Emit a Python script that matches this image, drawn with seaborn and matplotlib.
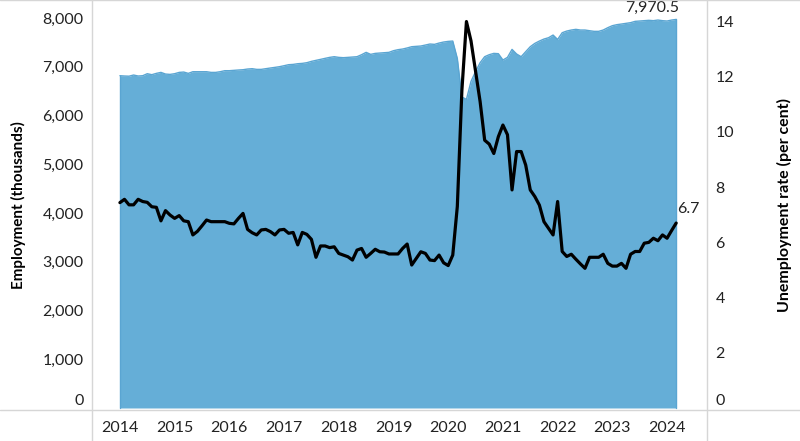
import numpy as np
import pandas as pd
import seaborn as sns
import matplotlib.pyplot as plt
from matplotlib.lines import Line2D

# monthly values, Jan 2014 - Mar 2024
employment = [
    6816, 6810, 6806, 6830, 6810, 6816, 6857, 6837, 6864, 6884, 6850, 6843,
    6857, 6884, 6891, 6864, 6898, 6898, 6898, 6898, 6884, 6884, 6898, 6919,
    6919, 6926, 6933, 6939, 6953, 6960, 6946, 6946, 6960, 6974, 6987, 7001,
    7021, 7042, 7048, 7062, 7069, 7083, 7110, 7131, 7151, 7172, 7192, 7206,
    7192, 7186, 7192, 7199, 7206, 7247, 7295, 7254, 7274, 7281, 7288, 7295,
    7329, 7350, 7363, 7385, 7411, 7418, 7425, 7445, 7466, 7459, 7486, 7507,
    7520, 7527, 7170, 6380, 6330, 6700, 6900, 7083, 7206, 7247, 7274, 7268,
    7138, 7192, 7356, 7261, 7206, 7309, 7411, 7479, 7527, 7568, 7595, 7650,
    7560, 7698, 7732, 7753, 7767, 7753, 7753, 7739, 7726, 7726, 7753, 7801,
    7842, 7863, 7876, 7890, 7904, 7931, 7938, 7945, 7952, 7945, 7958, 7945,
    7938, 7958, 7970.5,
]
unemployment = [
    7.44, 7.56, 7.36, 7.36, 7.56, 7.48, 7.45, 7.29, 7.27, 6.78, 7.15, 6.99,
    6.87, 6.97, 6.78, 6.75, 6.27, 6.40, 6.60, 6.81, 6.75, 6.75, 6.75, 6.75,
    6.69, 6.67, 6.87, 7.05, 6.47, 6.35, 6.27, 6.45, 6.47, 6.39, 6.27, 6.45,
    6.47, 6.33, 6.36, 5.91, 6.36, 6.29, 6.11, 5.46, 5.87, 5.87, 5.81, 5.84,
    5.60, 5.54, 5.48, 5.36, 5.72, 5.78, 5.46, 5.60, 5.75, 5.66, 5.65, 5.58,
    5.58, 5.58, 5.78, 5.94, 5.18, 5.42, 5.66, 5.60, 5.36, 5.34, 5.54, 5.26,
    5.16, 5.54, 7.30, 11.5, 14.0, 13.3, 12.2, 11.1, 9.70, 9.56, 9.22, 9.83,
    10.25, 9.90, 7.90, 9.29, 9.29, 8.80, 7.90, 7.66, 7.35, 6.75, 6.51, 6.27,
    7.48, 5.67, 5.49, 5.57, 5.39, 5.22, 5.06, 5.46, 5.46, 5.46, 5.57, 5.24,
    5.14, 5.14, 5.24, 5.06, 5.57, 5.67, 5.67, 5.97, 6.00, 6.15, 6.06, 6.27,
    6.15, 6.43, 6.70,
]
years = list(range(2014, 2025))

months = pd.date_range("2014-01-01", periods=len(employment), freq="MS")
df = pd.DataFrame({
    "t": months.year + (months.month - 1) / 12,
    "employment": employment,
    "unemployment": unemployment,
})

sns.set_style("white")
plt.rcParams["font.family"] = ["Lato", "DejaVu Sans"]
text_col = "#222222"
frame_col = "#d6d6d6"

fig = plt.figure(figsize=(8, 4.41), dpi=100)
ax = fig.add_axes([92 / 800, 31 / 441, 615 / 800, 410 / 441])

# employment area
ax.fill_between(df["t"], 0, df["employment"], color="#65aed7", lw=0)
sns.lineplot(data=df, x="t", y="employment", ax=ax, color="#5aa5d2", lw=1)
ax.plot([df["t"].iloc[0]] * 2, [0, employment[0]], color="#5aa5d2", lw=1)
ax.plot([df["t"].iloc[-1]] * 2, [0, employment[-1]], color="#5aa5d2", lw=1)

ax.set_xlim(2013.49, 2024.73)
ax.set_ylim(-41, 8369)
ax.set_yticks(range(0, 8001, 1000))
ax.set_yticklabels([f"{v:,}" for v in range(0, 8001, 1000)])
ax.set_xticks(years)
ax.set_xticklabels([str(y) for y in years])
ax.tick_params(axis="y", length=0, pad=6, labelsize=11.5, labelcolor=text_col)
ax.tick_params(axis="x", length=0, pad=8, labelsize=11.5, labelcolor=text_col)
ax.yaxis.get_ticklabels()[0].set_verticalalignment("bottom")
ax.set_xlabel("")
ax.set_ylabel("Employment (thousands)", fontsize=11, fontweight="bold",
              color="black", labelpad=12)
for s in ax.spines.values():
    s.set_visible(False)

# unemployment rate line
ax2 = ax.twinx()
sns.lineplot(data=df, x="t", y="unemployment", ax=ax2, color="black", lw=2.3)
ax2.set_ylim(-0.072, 14.78)
ax2.set_yticks(range(0, 15, 2))
ax2.tick_params(axis="y", length=0, pad=6, labelsize=11.5, labelcolor=text_col)
ax2.yaxis.get_ticklabels()[0].set_verticalalignment("bottom")
ax2.set_ylabel("Unemployment rate (per cent)", fontsize=11.5, fontweight="bold",
               color="black", labelpad=31)
for s in ax2.spines.values():
    s.set_visible(False)

# end labels
ax.annotate("7,970.5", (df["t"].iloc[-1], employment[-1]), xytext=(2, 3),
            textcoords="offset points", ha="right", va="bottom",
            fontsize=11.5, color=text_col)
ax2.annotate("6.7", (df["t"].iloc[-1], unemployment[-1]), xytext=(1, 5),
             textcoords="offset points", ha="left", va="bottom",
             fontsize=11.5, color=text_col)

# pane borders
fig.add_artist(Line2D([0, 1], [31 / 441] * 2, color=frame_col, lw=1))
fig.add_artist(Line2D([0, 1], [0.999] * 2, color=frame_col, lw=1))
fig.add_artist(Line2D([92 / 800] * 2, [0, 1], color=frame_col, lw=1))
fig.add_artist(Line2D([707 / 800] * 2, [0, 1], color=frame_col, lw=1))

fig.savefig("out.png", dpi=100)
